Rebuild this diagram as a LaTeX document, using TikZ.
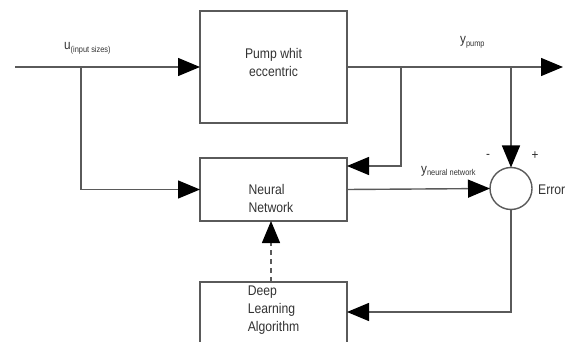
\documentclass[tikz,border=0pt]{standalone}
\usepackage{fontspec}
\setmainfont[FakeStretch=0.87]{Liberation Sans}
\usetikzlibrary{arrows.meta}
\definecolor{linegray}{HTML}{5A5A5A}
\definecolor{textgray}{HTML}{333333}
\newcommand\subfnt{\fontsize{8.5}{9}\selectfont}
\begin{document}
\begin{tikzpicture}[x=1pt,y=-1pt,
  line/.style={draw=linegray,line width=1.4pt},
  arr/.style={line,-{Triangle[length=22pt,width=18pt,color=black]}},
  darr/.style={arr,dash pattern=on 5pt off 4pt},
  box/.style={draw=linegray,line width=1.4pt,inner sep=0pt,outer sep=0pt,minimum width=147pt},
  lbl/.style={text=textgray,font=\fontsize{14}{18}\selectfont,inner sep=0pt},
  sml/.style={text=textgray,font=\fontsize{13.5}{14}\selectfont,inner sep=0pt}
]
\useasboundingbox (0,0) rectangle (570,342);
\clip (0,0) rectangle (570,342);
\fill[white] (0,0) rectangle (570,342);
% boxes
\node[box,minimum height=112pt] (pump) at (273.5,67) {};
\node[box,minimum height=63pt] (nn) at (273.5,189.5) {};
\node[box,minimum height=80pt] (dl) at (273.5,322) {};
\node[lbl,align=center] (pumpt) at (273.5,62) {Pump whit\\eccentric};
\node[lbl,align=left] (nnt) at (271,198) {Neural\\Network};
\node[lbl,align=left] (dlt) at (273.5,310) {Deep\\Learning\\Algorithm};
% summing junction
\node[draw=linegray,line width=1.4pt,circle,minimum size=42pt,inner sep=0pt,outer sep=0pt] (sum) at (511,188.5) {};
\node[lbl,anchor=west] (err) at (538,190) {Error};
% coordinates
\coordinate (in) at (15,67);
\coordinate (bu) at (81,67);
\coordinate (out) at (563,67);
\coordinate (bp) at (401,67);
\coordinate (bs) at (511,67);
\coordinate (nnfb) at (347,166);
\coordinate (dlin) at (347,312);
\coordinate (dlup) at (271,282);
\coordinate (nnlo) at (271,221);
% connectors
\draw[arr] (in) -- (pump.west);
\draw[arr] (bu) |- (nn.west);
\draw[arr] (pump.east) -- (out);
\draw[arr] (bp) |- (nnfb);
\draw[arr] (bs) -- (sum.north);
\draw[arr] (nn.east) -- (sum.west);
\draw[arr] (sum.south) |- (dlin);
\draw[darr] (dlup) -- (nnlo);
% labels
\node[sml,anchor=base west] (ulbl) at (64,50) {u\raisebox{-2.5pt}{\subfnt(input sizes)}};
\node[sml,anchor=base west] (ylbl) at (460,44) {y\raisebox{-2.5pt}{\subfnt pump}};
\node[sml,anchor=base west] (ynl) at (421,173) {y\raisebox{-2.5pt}{\subfnt neural network}};
\node[sml] (minus) at (488,156) {-};
\node[sml] (plus) at (535,156) {+};
\end{tikzpicture}
\end{document}
